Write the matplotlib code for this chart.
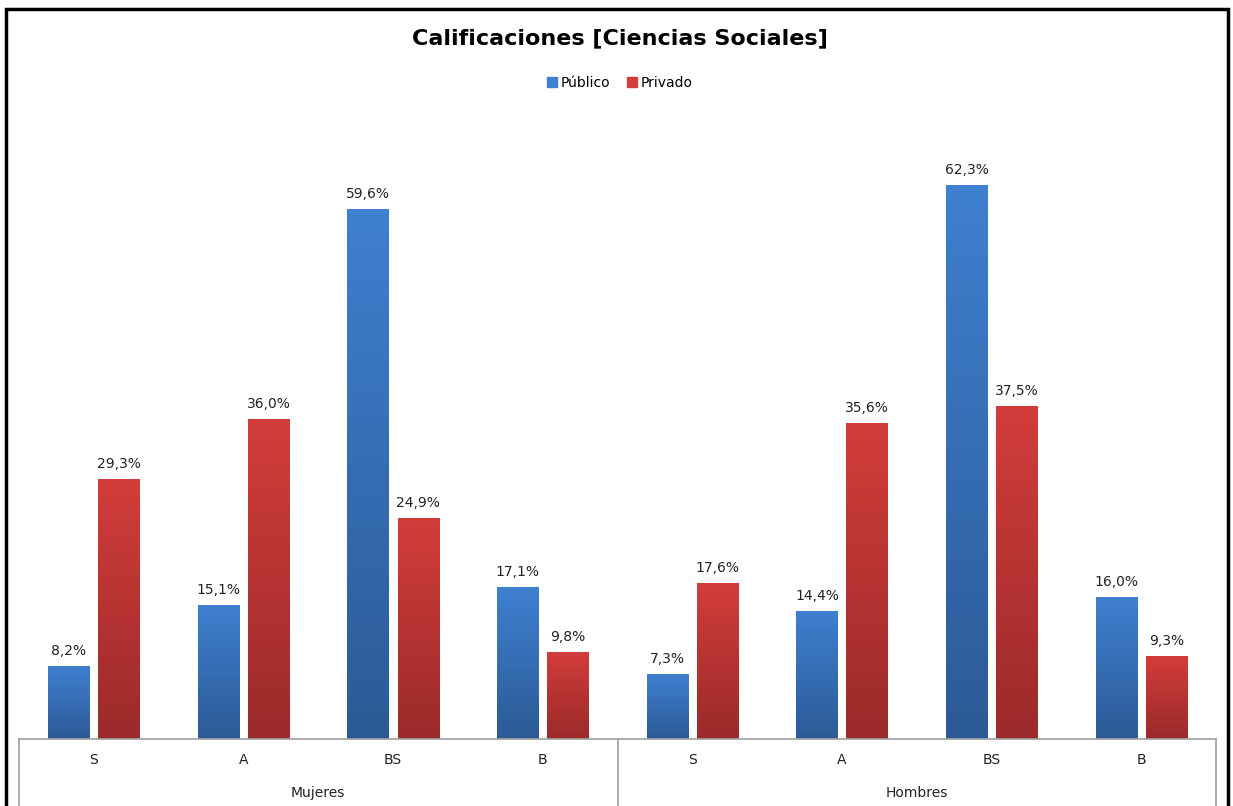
import numpy as np
import matplotlib.pyplot as plt
from matplotlib.colors import LinearSegmentedColormap
from matplotlib.patches import Rectangle
import matplotlib.transforms as mtransforms

# data
groups = ['Mujeres', 'Hombres']
grades = ['S', 'A', 'BS', 'B']
publico = [8.2, 15.1, 59.6, 17.1, 7.3, 14.4, 62.3, 16.0]
privado = [29.3, 36.0, 24.9, 9.8, 17.6, 35.6, 37.5, 9.3]
series_names = ['Público', 'Privado']

blue_top, blue_bot = '#3f80d0', '#2c5a96'
red_top, red_bot = '#d23d3b', '#9b2a2a'

plt.rcParams['font.family'] = ['DejaVu Sans']

fig = plt.figure(figsize=(12.33, 8.06), dpi=100)
fig.patch.set_facecolor('white')
ax = fig.add_axes([19/1233, 67/806, (1216-19)/1233, (739-117)/806])

n = len(publico)
x = np.arange(n)
w = 0.275
gap = 0.06
off = (w + gap) / 2


def grad_bars(xs, vals, ctop, cbot):
    cmap = LinearSegmentedColormap.from_list('g', [cbot, ctop])
    grad = np.linspace(0, 1, 256).reshape(-1, 1)
    bars = ax.bar(xs, vals, w, color='none', edgecolor='none')
    for bar in bars:
        x0 = bar.get_x()
        h = bar.get_height()
        im = ax.imshow(grad, cmap=cmap, origin='lower', aspect='auto',
                       extent=[x0, x0 + w, 0, h], zorder=2)
        im.set_clip_path(bar)
    for xi, v in zip(xs, vals):
        ax.text(xi, v + 0.9, f'{v:.1f}%'.replace('.', ','), ha='center',
                va='bottom', fontsize=10, color='#222222')
    return bars


grad_bars(x - off, publico, blue_top, blue_bot)
grad_bars(x + off, privado, red_top, red_bot)

ax.set_xlim(-0.5, n - 0.5)
ax.set_ylim(0, 70)
ax.set_yticks([])
ax.set_xticks([])
for sp in ['top', 'right', 'left']:
    ax.spines[sp].set_visible(False)
ax.spines['bottom'].set_color('#a0a0a0')
ax.spines['bottom'].set_linewidth(1.2)

trans = mtransforms.blended_transform_factory(ax.transData, fig.transFigure)
for i in range(n):
    ax.text(i, 1 - 760/806, grades[i % 4], transform=trans, ha='center',
            va='center', fontsize=10, color='#222222')
for g, name in enumerate(groups):
    ax.text(g * 4 + 1.5, 1 - 793/806, name, transform=trans, ha='center',
            va='center', fontsize=10, color='#222222')
for xv in [-0.5, 3.5, 7.5]:
    ax.plot([xv, xv], [67/806, 0], transform=trans, color='#a0a0a0',
            lw=1.2, clip_on=False)

fig.text(620/1233, 1 - 38/806, 'Calificaciones [Ciencias Sociales]',
         ha='center', va='center', fontsize=16, fontweight='bold')

# legend
handles = [Rectangle((0, 0), 1, 1, color=blue_top),
           Rectangle((0, 0), 1, 1, color=red_top)]
fig.legend(handles, series_names, loc='center', bbox_to_anchor=(620/1233, 1 - 83/806),
           ncol=2, frameon=False, fontsize=10, handlelength=0.7, handleheight=0.7,
           handletextpad=0.3, columnspacing=1.2)

# outer border
fig.add_artist(Rectangle((6/1233, -0.05), (1228-6)/1233, 1.05 - 9/806,
                         transform=fig.transFigure, fill=False, lw=2.5,
                         edgecolor='black'))

fig.savefig('out.png', dpi=100, facecolor='white')
